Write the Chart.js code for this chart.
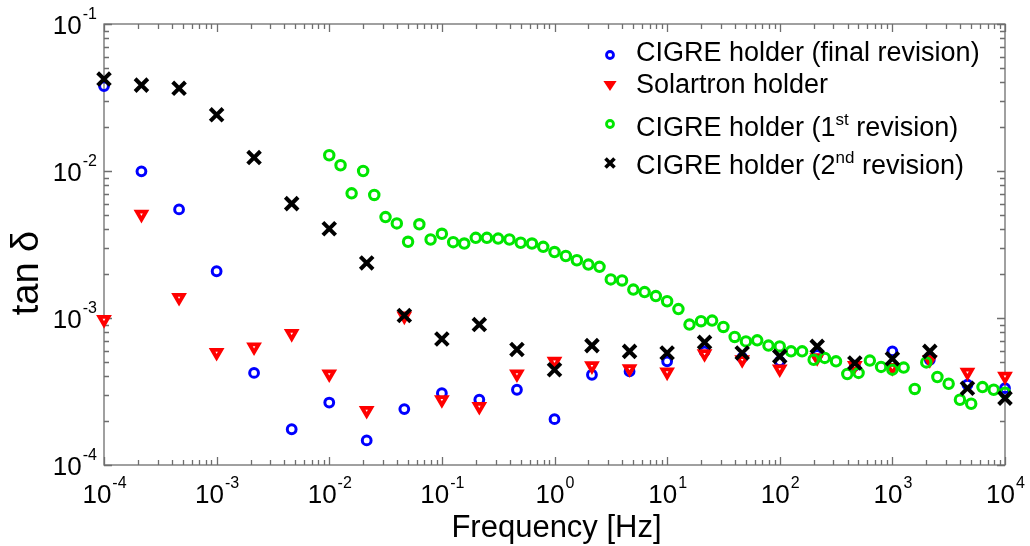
<!DOCTYPE html>
<html lang="en">
<head>
  <meta charset="UTF-8"/>
  <title>tan delta vs frequency</title>
  <script src="https://cdn.jsdelivr.net/npm/chart.js"></script>
  <style>
    body { margin: 0; background: #fff; }
    #wrap { width: 1030px; height: 546px; }
  </style>
</head>
<body>
  <div id="wrap"><canvas id="tanDelta" width="1030" height="546"></canvas></div>

  <script>
    // measurement frequencies (Hz) for the three holder series
    const freqs = [1e-4, 2.15e-4, 4.64e-4, 1e-3, 2.15e-3, 4.64e-3, 1e-2, 2.15e-2, 4.64e-2,
                   0.1, 0.215, 0.464, 1, 2.15, 4.64, 10, 21.5, 46.4, 100, 215, 464, 1000, 2150, 4640, 10000];

    const cigreFinal = [0.0378, 0.00995, 0.00548, 0.00208, 0.000423, 0.000175, 0.000266, 0.000147, 0.000240,
                        0.000308, 0.000278, 0.000325, 0.000205, 0.000411, 0.000433, 0.000507, 0.000593, 0.000537,
                        0.000507, 0.000560, 0.000475, 0.000593, 0.000520, 0.000352, 0.000333];

    const solartron = [0.000975, 0.00507, 0.00138, 0.000583, 0.000635, 0.000783, 0.000416, 0.000235, 0.00103,
                       0.000278, 0.000250, 0.000416, 0.000507, 0.000473, 0.000452, 0.000429, 0.000571, 0.000520,
                       0.000450, 0.000537, 0.000475, 0.000460, 0.000520, 0.000427, 0.000401];

    const cigreSecond = [0.0422, 0.0384, 0.0365, 0.0241, 0.01234, 0.00600, 0.00405, 0.00237, 0.00104,
                         0.000720, 0.000902, 0.000610, 0.000445, 0.000649, 0.000593, 0.000578, 0.000683, 0.000578,
                         0.000548, 0.000641, 0.000494, 0.000528, 0.000593, 0.000333, 0.000285];

    // 1st revision was swept from 10 mHz, 10 points per decade
    const freqsFirst = [0.01, 0.0126, 0.0158, 0.02, 0.0251, 0.0316, 0.0398, 0.0501, 0.0631, 0.0794,
                        0.1, 0.126, 0.158, 0.2, 0.251, 0.316, 0.398, 0.501, 0.631, 0.794,
                        1, 1.26, 1.58, 2, 2.51, 3.16, 3.98, 5.01, 6.31, 7.94,
                        10, 12.6, 15.8, 20, 25.1, 31.6, 39.8, 50.1, 63.1, 79.4,
                        100, 126, 158, 200, 251, 316, 398, 501, 631, 794,
                        1000, 1260, 1580, 2000, 2510, 3160, 3980, 5010, 6310, 7940, 10000];

    const cigreFirst = [0.0128, 0.01094, 0.00705, 0.0100, 0.00687, 0.00486, 0.00440, 0.00330, 0.00434, 0.00342,
                        0.00374, 0.00328, 0.00321, 0.00351, 0.00351, 0.00347, 0.00342, 0.00325, 0.00321, 0.00305,
                        0.00281, 0.00264, 0.00247, 0.00231, 0.00223, 0.00183, 0.00180, 0.00156, 0.00150, 0.00141,
                        0.00130, 0.00115, 0.000902, 0.000951, 0.000960, 0.000869, 0.000743, 0.000693, 0.000705, 0.000649,
                        0.000641, 0.000593, 0.000593, 0.000520, 0.000535, 0.000507, 0.000416, 0.000423, 0.000513, 0.000465,
                        0.000445, 0.000460, 0.000329, 0.000499, 0.000397, 0.000357, 0.000278, 0.000261, 0.000339, 0.000325,
                        0.000310];

    const xDecades = [-4, -3, -2, -1, 0, 1, 2, 3, 4];
    const yDecades = [-4, -3, -2, -1];

    const FONT = '"Liberation Sans", Arial, sans-serif';
    const AXIS_COLOR = '#6e6e6e';

    const toPoints = (xs, ys) => xs.map((x, i) => ({ x: x, y: ys[i] }));

    // "10" with a raised exponent, anchored by its left edge
    function powWidth(ctx, exp) {
      ctx.font = '26px ' + FONT;
      const bw = ctx.measureText('10').width;
      ctx.font = '16px ' + FONT;
      return [bw, ctx.measureText(String(exp)).width];
    }
    function drawPow(ctx, exp, left, baseline) {
      const [bw] = powWidth(ctx, exp);
      ctx.font = '26px ' + FONT;
      ctx.fillText('10', left, baseline);
      ctx.font = '16px ' + FONT;
      ctx.fillText(String(exp), left + bw + 1, baseline - 15);
    }

    // text with superscript pieces: parts = [[text, isSup], ...]
    function drawRich(ctx, parts, x, baseline, size) {
      let cx = x;
      parts.forEach(([t, sup]) => {
        ctx.font = (sup ? Math.round(size * 0.62) : size) + 'px ' + FONT;
        ctx.fillText(t, cx, sup ? baseline - size * 0.42 : baseline);
        cx += ctx.measureText(t).width;
      });
    }

    const legendItems = [
      { kind: 'circle', color: '#0000ff', parts: [['CIGRE holder (final revision)', false]], base: 61, my: 55 },
      { kind: 'tri', color: '#ff0000', parts: [['Solartron holder', false]], base: 93, my: 85 },
      { kind: 'circle', color: '#00e600', parts: [['CIGRE holder (1', false], ['st', true], [' revision)', false]], base: 136, my: 124 },
      { kind: 'cross', color: '#000000', parts: [['CIGRE holder (2', false], ['nd', true], [' revision)', false]], base: 174, my: 163 }
    ];

    const framePlugin = {
      id: 'matlabFrame',
      beforeDatasetsDraw(chart) {
        const { ctx, chartArea: a, scales: { x, y } } = chart;
        ctx.save();
        ctx.strokeStyle = AXIS_COLOR;
        ctx.lineWidth = 1.3;
        ctx.strokeRect(a.left, a.top, a.right - a.left, a.bottom - a.top);
        ctx.beginPath();
        xDecades.forEach(d => {
          for (let m = 1; m <= 9; m++) {
            if (d === 4 && m > 1) break;
            const px = Math.round(x.getPixelForValue(m * Math.pow(10, d))) + 0.5;
            const len = m === 1 ? 8 : 5;
            ctx.moveTo(px, a.bottom); ctx.lineTo(px, a.bottom - len);
            ctx.moveTo(px, a.top); ctx.lineTo(px, a.top + len);
          }
        });
        yDecades.forEach(d => {
          for (let m = 1; m <= 9; m++) {
            if (d === -1 && m > 1) break;
            const py = Math.round(y.getPixelForValue(m * Math.pow(10, d))) + 0.5;
            const len = m === 1 ? 8 : 5;
            ctx.moveTo(a.left, py); ctx.lineTo(a.left + len, py);
            ctx.moveTo(a.right, py); ctx.lineTo(a.right - len, py);
          }
        });
        ctx.stroke();
        ctx.restore();
      },
      afterDraw(chart) {
        const { ctx, chartArea: a, scales: { x, y } } = chart;
        ctx.save();
        ctx.fillStyle = '#000';
        ctx.textBaseline = 'alphabetic';
        ctx.textAlign = 'left';

        // tick labels
        xDecades.forEach(d => {
          const px = x.getPixelForValue(Math.pow(10, d));
          const [bw, sw] = powWidth(ctx, d);
          drawPow(ctx, d, px - (bw + sw) / 2, a.bottom + 38);
        });
        yDecades.forEach(d => {
          const py = y.getPixelForValue(Math.pow(10, d));
          const [bw, sw] = powWidth(ctx, d);
          drawPow(ctx, d, a.left - 8 - bw - sw, py + 10);
        });

        // axis titles
        ctx.font = '31px ' + FONT;
        ctx.textAlign = 'center';
        ctx.fillText('Frequency [Hz]', (a.left + a.right) / 2 + 2, 537);
        ctx.save();
        ctx.translate(38, 273);
        ctx.rotate(-Math.PI / 2);
        ctx.font = '38px ' + FONT;
        ctx.fillText('tan \u03b4', 0, 0);
        ctx.restore();

        // legend
        ctx.textAlign = 'left';
        legendItems.forEach(it => {
          ctx.save();
          ctx.strokeStyle = it.color;
          ctx.fillStyle = it.color;
          ctx.lineWidth = it.kind === 'cross' ? 3.6 : 2.8;
          if (it.kind === 'circle') {
            ctx.beginPath(); ctx.arc(610, it.my, 3.5, 0, Math.PI * 2); ctx.stroke();
          } else if (it.kind === 'tri') {
            ctx.beginPath();
            ctx.moveTo(610 - 4, it.my - 2.5); ctx.lineTo(610 + 4, it.my - 2.5); ctx.lineTo(610, it.my + 3.5);
            ctx.closePath(); ctx.stroke(); ctx.fill();
          } else {
            ctx.beginPath();
            ctx.moveTo(605.5, it.my - 4.5); ctx.lineTo(614.5, it.my + 4.5);
            ctx.moveTo(614.5, it.my - 4.5); ctx.lineTo(605.5, it.my + 4.5);
            ctx.stroke();
          }
          ctx.restore();
          drawRich(ctx, it.parts, 636, it.base, 27);
        });
        ctx.restore();
      }
    };

    const ctx = document.getElementById('tanDelta').getContext('2d');
    new Chart(ctx, {
      type: 'scatter',
      data: {
        datasets: [
          {
            label: 'CIGRE holder (final revision)',
            data: toPoints(freqs, cigreFinal),
            pointStyle: 'circle',
            pointRadius: 4.4,
            borderWidth: 3,
            borderColor: '#0000ff',
            backgroundColor: 'rgba(0,0,0,0)',
            order: 4,
            clip: false
          },
          {
            label: 'Solartron holder',
            data: toPoints(freqs, solartron),
            pointStyle: 'triangle',
            rotation: 180,
            pointRadius: 5.3,
            borderWidth: 3.8,
            borderColor: '#ff0000',
            backgroundColor: '#ffffff',
            order: 3,
            clip: false
          },
          {
            label: 'CIGRE holder (1st revision)',
            data: toPoints(freqsFirst, cigreFirst),
            pointStyle: 'circle',
            pointRadius: 4.7,
            borderWidth: 3.1,
            borderColor: '#00e600',
            backgroundColor: 'rgba(0,0,0,0)',
            order: 2,
            clip: false
          },
          {
            label: 'CIGRE holder (2nd revision)',
            data: toPoints(freqs, cigreSecond),
            pointStyle: 'crossRot',
            pointRadius: 9,
            borderWidth: 4,
            borderColor: '#000000',
            order: 1,
            clip: false
          }
        ]
      },
      options: {
        responsive: false,
        animation: false,
        events: [],
        layout: { padding: { top: 24, right: 25, left: 0, bottom: 0 } },
        plugins: {
          legend: { display: false },
          tooltip: { enabled: false }
        },
        scales: {
          x: {
            type: 'logarithmic',
            min: 1e-4,
            max: 1e4,
            grid: { display: false },
            border: { display: false },
            ticks: { display: false },
            afterFit: s => { s.height = 81; }
          },
          y: {
            type: 'logarithmic',
            min: 1e-4,
            max: 1e-1,
            grid: { display: false },
            border: { display: false },
            ticks: { display: false },
            afterFit: s => { s.width = 104; }
          }
        }
      },
      plugins: [framePlugin]
    });
  </script>
</body>
</html>
